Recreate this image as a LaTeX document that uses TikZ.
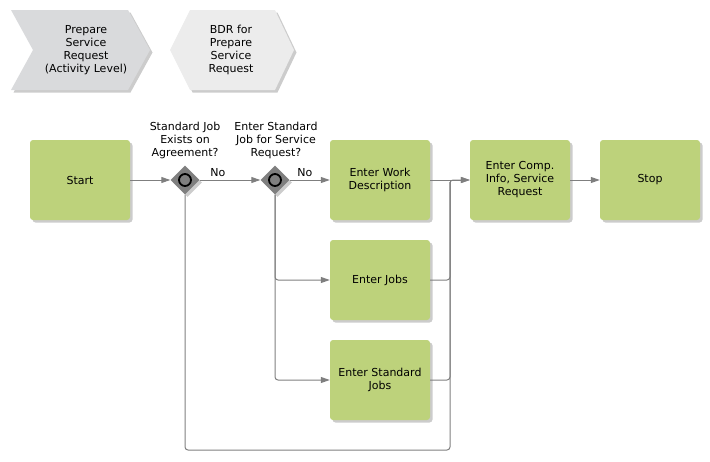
\documentclass[tikz,border=0pt]{standalone}
\usepackage{fontspec}
\setmainfont{DejaVu Sans}
\usetikzlibrary{arrows.meta,shadows,shapes.geometric}

\definecolor{taskgreen}{HTML}{BDD27B}
\definecolor{linegray}{HTML}{7F7F7F}
\definecolor{evgray}{HTML}{D9DADC}
\definecolor{bdrgray}{HTML}{ECECEC}

\tikzset{
  softshadow/.style={drop shadow={shadow xshift=2.5pt,shadow yshift=-2.5pt,fill=black!40,opacity=0.5}},
  task/.style={fill=taskgreen, rounded corners=3pt, minimum width=100pt, minimum height=80pt, align=center, softshadow},
  gate/.style={diamond, fill=linegray, minimum width=29pt, minimum height=29pt, inner sep=0pt, softshadow,
    path picture={\draw[black, fill=linegray, line width=1.8pt] (path picture bounding box.center) circle (6pt);}},
  flow/.style={draw=linegray, line width=1pt, rounded corners=3pt, -{Triangle[length=9pt,width=6pt]}},
  joinline/.style={draw=linegray, line width=1pt, rounded corners=3pt},
  lbl/.style={align=center, inner sep=1pt}
}

\begin{document}
\begin{tikzpicture}[x=1pt,y=-1pt, font=\fontsize{11}{13}\selectfont]
        \useasboundingbox (0,0) rectangle (710,461);

        %Header shapes
        %event chevron
        \fill[evgray, softshadow] (11,10) -- (128,10) -- (150,50) -- (128,90) -- (11,90) -- (33,50) -- cycle;
        \node[lbl] (prep) at (86,50) {Prepare\\Service\\Request\\(Activity Level)};
        %bdr hexagon
        \fill[bdrgray, softshadow] (170,50) -- (190,10) -- (275,10) -- (294,50) -- (275,90) -- (190,90) -- cycle;
        \node[lbl] (bdr) at (231,50) {BDR for\\Prepare\\Service\\Request};

        %Tasks
        \node[task] (start) at (80,180) {Start};
        \node[task] (work) at (380,180) {Enter Work\\Description};
        \node[task] (jobs) at (380,280) {Enter Jobs};
        \node[task] (stdjobs) at (380,380) {Enter Standard\\Jobs};
        \node[task] (comp) at (520,180) {Enter Comp.\\Info, Service\\Request};
        \node[task] (stop) at (650,180) {Stop};

        %Gateways
        \node[gate] (g1) at (185,180) {};
        \node[gate] (g2) at (275,180) {};
        \node[lbl] (q1) at (185,140) {Standard Job\\Exists on\\Agreement?};
        \node[lbl] (q2) at (276,140) {Enter Standard\\Job for Service\\Request?};

        %Helper points
        \coordinate (loopbot) at (450,450);
        \coordinate (merge) at (450,182);

        %Edges
        \draw[flow] (start) -- (g1);
        \draw[flow] (g1) -- node[lbl, above=2pt, pos=0.3] {No} (g2);
        \draw[flow] (g2) -- node[lbl, above=2pt, pos=0.38] {No} (work);
        \draw[flow] (g2.south) |- (jobs);
        \draw[flow] (g2.south) |- (stdjobs);
        \draw[flow] (g1.south) |- (loopbot) |- (comp);
        \draw[flow] (work) -- (comp);
        \draw[joinline] (jobs.east) -| (merge);
        \draw[joinline] (stdjobs.east) -| (merge);
        \draw[flow] (comp) -- (stop);

\end{tikzpicture}
\end{document}
